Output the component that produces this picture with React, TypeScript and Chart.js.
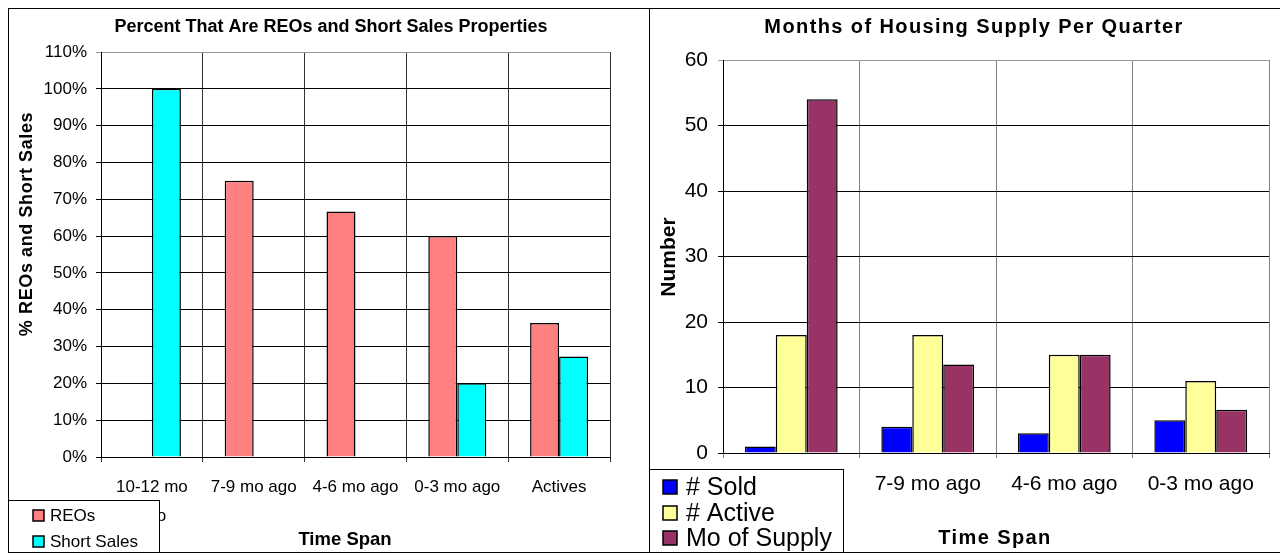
import React, { useEffect, useRef } from "react";
import { Chart, registerables } from "chart.js";

Chart.register(...registerables);

const FONT = '"Liberation Sans", Arial, Helvetica, sans-serif';

// ---- Left chart: Percent That Are REOs and Short Sales Properties ----
const spanLabels: (string | string[])[] = [["10-12 mo", "ago"], "7-9 mo ago", "4-6 mo ago", "0-3 mo ago", "Actives"];
const reoPercents = [0, 75, 66.7, 60, 36.4];
const shortSalePercents = [100, 0, 0, 20, 27.3];
const percentMax = 110;
const percentStep = 10;

// ---- Right chart: Months of Housing Supply Per Quarter ----
const quarterLabels: (string | string[])[] = [["10-12 mo", "ago"], "7-9 mo ago", "4-6 mo ago", "0-3 mo ago"];
const soldCounts = [1, 4, 3, 5];
const activeCounts = [18, 18, 15, 11];
const monthsOfSupply = [54, 13.5, 15, 6.6];
const numberMax = 60;
const numberStep = 10;

type TextSpec = { text: string; x: number; y: number; font: string; spacing?: number; rotate?: boolean };
type LegendSpec = {
  x: number; y: number; w: number; h: number;
  sq: number; sqX: number; textX: number; ys: number[]; font: string;
};

function drawText(ctx: CanvasRenderingContext2D, t: TextSpec) {
  ctx.save();
  ctx.font = t.font;
  ctx.fillStyle = "#000";
  ctx.textAlign = "center";
  ctx.textBaseline = "middle";
  (ctx as any).letterSpacing = (t.spacing || 0) + "px";
  ctx.translate(t.x, t.y);
  if (t.rotate) ctx.rotate(-Math.PI / 2);
  ctx.fillText(t.text, 0, 0);
  (ctx as any).letterSpacing = "0px";
  ctx.restore();
}

function makeDecor(texts: TextSpec[], legend: LegendSpec) {
  return {
    id: "decor",
    afterDraw(chart: any) {
      const ctx: CanvasRenderingContext2D = chart.ctx;
      texts.forEach((t) => drawText(ctx, t));
      // legend box
      ctx.save();
      ctx.fillStyle = "#fff";
      ctx.fillRect(legend.x, legend.y, legend.w, legend.h);
      ctx.strokeStyle = "#000";
      ctx.lineWidth = 1;
      ctx.strokeRect(legend.x + 0.5, legend.y + 0.5, legend.w - 1, legend.h);
      chart.data.datasets.forEach((ds: any, i: number) => {
        const cy = legend.ys[i];
        const s = legend.sq;
        ctx.fillStyle = ds.backgroundColor;
        ctx.fillRect(legend.sqX, Math.round(cy - s / 2), s, s);
        ctx.strokeStyle = "#000";
        ctx.lineWidth = 1.5;
        ctx.strokeRect(legend.sqX, Math.round(cy - s / 2), s, s);
        ctx.fillStyle = "#000";
        ctx.font = legend.font;
        ctx.textAlign = "left";
        ctx.textBaseline = "middle";
        ctx.fillText(ds.label, legend.textX, cy + 1);
      });
      ctx.restore();
    },
  };
}

function ChartPanel({ makeConfig, style }: { makeConfig: () => any; style: React.CSSProperties }) {
  const ref = useRef<HTMLCanvasElement | null>(null);
  useEffect(() => {
    if (!ref.current) return;
    const chart = new Chart(ref.current, makeConfig());
    return () => chart.destroy();
  }, [makeConfig]);
  return (
    <div style={style}>
      <div style={{ position: "relative", width: "100%", height: "100%" }}>
        <canvas ref={ref} />
      </div>
    </div>
  );
}

function leftConfig() {
  return {
    type: "bar",
    data: {
      labels: spanLabels,
      datasets: [
        { label: "REOs", data: reoPercents, backgroundColor: "#FF8080", borderColor: "#000", borderWidth: 1.5 },
        { label: "Short Sales", data: shortSalePercents, backgroundColor: "#00FFFF", borderColor: "#000", borderWidth: 1.5 },
      ],
    },
    options: {
      animation: false,
      responsive: true,
      maintainAspectRatio: false,
      layout: { padding: { top: 43, right: 39, left: 0, bottom: 0 } },
      datasets: { bar: { categoryPercentage: 0.57, barPercentage: 1 } },
      plugins: { legend: { display: false }, tooltip: { enabled: false }, title: { display: false } },
      scales: {
        x: {
          grid: { offset: true, color: (c: any) => (c.index === spanLabels.length ? "#999" : "#333"), tickLength: 5, lineWidth: 1 },
          border: { color: "#000", width: 1 },
          ticks: { color: "#000", font: { family: FONT, size: 17, lineHeight: 1.7 }, padding: 11, autoSkip: false, maxRotation: 0 },
          afterFit: (s: any) => { s.height = 95; },
        },
        y: {
          min: 0,
          max: percentMax,
          grid: { color: (c: any) => (c.tick && c.tick.value === percentMax ? "#999" : "#000"), tickLength: 5 },
          border: { color: "#000", width: 1 },
          ticks: { stepSize: percentStep, color: "#000", font: { family: FONT, size: 17 }, padding: 9, callback: (v: any) => v + "%" },
          afterFit: (s: any) => { s.width = 92; },
        },
      },
    },
    plugins: [
      makeDecor(
        [
          { text: "Percent That Are REOs and Short Sales Properties", x: 322, y: 18, font: `bold 18px ${FONT}` },
          { text: "% REOs and Short Sales", x: 18, y: 215, font: `bold 18px ${FONT}`, spacing: 0.6, rotate: true },
          { text: "Time Span", x: 336, y: 531, font: `bold 18.5px ${FONT}` },
        ],
        { x: -1, y: 491, w: 152, h: 60, sq: 11, sqX: 24, textX: 41, ys: [506, 532], font: `17px ${FONT}` }
      ),
    ],
  };
}

function rightConfig() {
  return {
    type: "bar",
    data: {
      labels: quarterLabels,
      datasets: [
        { label: "# Sold", data: soldCounts, backgroundColor: "#0000FF", borderColor: "#000", borderWidth: 1.5 },
        { label: "# Active", data: activeCounts, backgroundColor: "#FFFF99", borderColor: "#000", borderWidth: 1.5 },
        { label: "Mo of Supply", data: monthsOfSupply, backgroundColor: "#993366", borderColor: "#000", borderWidth: 1.5 },
      ],
    },
    options: {
      animation: false,
      responsive: true,
      maintainAspectRatio: false,
      layout: { padding: { top: 51, right: 11, left: 0, bottom: 0 } },
      datasets: { bar: { categoryPercentage: 0.68, barPercentage: 1 } },
      plugins: { legend: { display: false }, tooltip: { enabled: false }, title: { display: false } },
      scales: {
        x: {
          grid: { offset: true, color: "#808080", tickLength: 5 },
          border: { color: "#000", width: 1 },
          ticks: { color: "#000", font: { family: FONT, size: 21, lineHeight: 1.2 }, padding: 14, autoSkip: false, maxRotation: 0 },
          afterFit: (s: any) => { s.height = 99; },
        },
        y: {
          min: 0,
          max: numberMax,
          grid: { color: (c: any) => (c.tick && c.tick.value === numberMax ? "#999" : "#000"), tickLength: 5 },
          border: { color: "#000", width: 1 },
          ticks: { stepSize: numberStep, color: "#000", font: { family: FONT, size: 21 }, padding: 10 },
          afterFit: (s: any) => { s.width = 73; },
        },
      },
    },
    plugins: [
      makeDecor(
        [
          { text: "Months of Housing Supply Per Quarter", x: 324, y: 18, font: `bold 20px ${FONT}`, spacing: 1.4 },
          { text: "Number", x: 19, y: 248, font: `bold 21px ${FONT}`, rotate: true },
          { text: "Time Span", x: 345, y: 529, font: `bold 20px ${FONT}`, spacing: 1.4 },
        ],
        { x: -1, y: 460, w: 195, h: 90, sq: 14, sqX: 13, textX: 36, ys: [478, 504, 529], font: `25px ${FONT}` }
      ),
    ],
  };
}

export default function App() {
  return (
    <div style={{ position: "relative", width: 1272, height: 545 }}>
      <ChartPanel
        makeConfig={leftConfig}
        style={{
          position: "absolute", left: 0, top: 0, width: 641, height: 545, boxSizing: "border-box",
          borderLeft: "1px solid #000", borderTop: "1px solid #000", borderBottom: "1px solid #000", background: "#fff",
        }}
      />
      <ChartPanel
        makeConfig={rightConfig}
        style={{
          position: "absolute", left: 641, top: 0, width: 632, height: 545, boxSizing: "border-box",
          border: "1px solid #000", background: "#fff",
        }}
      />
    </div>
  );
}
